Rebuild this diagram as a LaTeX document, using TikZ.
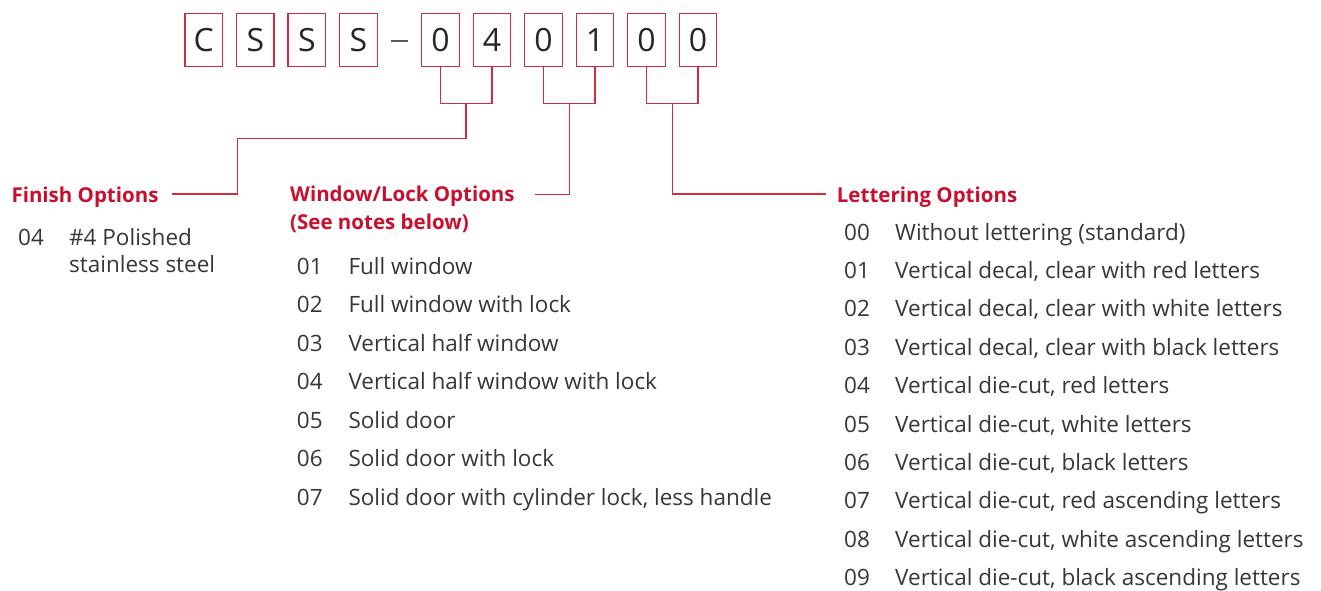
\documentclass[tikz,border=0pt]{standalone}
\usepackage{fontspec}
\setmainfont{Open Sans}
\definecolor{hred}{RGB}{200,16,46}
\definecolor{lred}{RGB}{212,43,63}
\definecolor{btxt}{RGB}{55,55,55}
\definecolor{dgray}{RGB}{80,92,102}
\begin{document}
\begin{tikzpicture}[x=1pt,y=-1pt,
 cbox/.style={draw=lred, line width=1.3pt, minimum width=37.5pt, minimum height=53.4pt, inner sep=0pt, font=\fontsize{32}{32}\selectfont, text=black!85},
 conn/.style={draw=lred, line width=1.3pt},
 head/.style={anchor=base west, inner sep=0pt, text=hred, font=\fontsize{20.5}{24}\selectfont\bfseries},
 item/.style={anchor=base west, inner sep=0pt, text=btxt, font=\fontsize{22.5}{26}\selectfont},
]
\useasboundingbox (0,0) rectangle (1321,590);
% code boxes
\foreach \nm/\xx/\ch in {b1/203.75/C, b2/255.3/S, b3/306.85/S, b4/358.4/S, b5/440.4/0, b6/491.9/4, b7/543.5/0, b8/595/1, b9/646.5/0, b10/698/0}
  \node[cbox] (\nm) at (\xx,40) {\ch};
\coordinate (dl) at (391,41);
\coordinate (dr) at (408,41);
\draw[dgray, line width=2pt] (dl) -- (dr);
% brackets
\coordinate (jA) at (466,103.3);
\coordinate (jB) at (569.5,103.3);
\coordinate (jC) at (672.3,103.3);
\draw[conn] (b5.south) |- (jA) -| (b6.south);
\draw[conn] (b7.south) |- (jB) -| (b8.south);
\draw[conn] (b9.south) |- (jC) -| (b10.south);
\coordinate (kA) at (237.7,138.3);
\coordinate (fA) at (171.7,194);
\coordinate (fB) at (535,194.3);
\coordinate (fC) at (826,194);
\draw[conn] (jA) |- (kA) |- (fA);
\draw[conn] (jB) |- (fB);
\draw[conn] (jC) |- (fC);
% headings
\node[head] (hfin) at (11.3,202.3) {Finish Options};
\node[head] (hwin) at (290,201.7) {Window/Lock Options};
\node[head] (hwin2) at (290,229.3) {(See notes below)};
\node[head] (hlet) at (836.7,202.3) {Lettering Options};
% finish
\node[item] (fn) at (18,245) {04};
\node[item] (ft1) at (69,245) {\#4 Polished};
\node[item] (ft2) at (69,272) {stainless steel};
% window/lock
\foreach [count=\k from 0] \num/\desc in {01/{Full window}, 02/{Full window with lock}, 03/{Vertical half window}, 04/{Vertical half window with lock}, 05/{Solid door}, 06/{Solid door with lock}, 07/{Solid door with cylinder lock, less handle}} {
  \node[item] (wn\num) at (296.7,{274+38.5*\k}) {\num};
  \node[item] (wt\num) at (348.3,{274+38.5*\k}) {\desc};
}
% lettering
\foreach [count=\k from 0] \num/\desc in {00/{Without lettering (standard)}, 01/{Vertical decal, clear with red letters}, 02/{Vertical decal, clear with white letters}, 03/{Vertical decal, clear with black letters}, 04/{Vertical die-cut, red letters}, 05/{Vertical die-cut, white letters}, 06/{Vertical die-cut, black letters}, 07/{Vertical die-cut, red ascending letters}, 08/{Vertical die-cut, white ascending letters}, 09/{Vertical die-cut, black ascending letters}} {
  \node[item] (ln\num) at (844,{240+38.4*\k}) {\num};
  \node[item] (lt\num) at (895,{240+38.4*\k}) {\desc};
}
\end{tikzpicture}
\end{document}
